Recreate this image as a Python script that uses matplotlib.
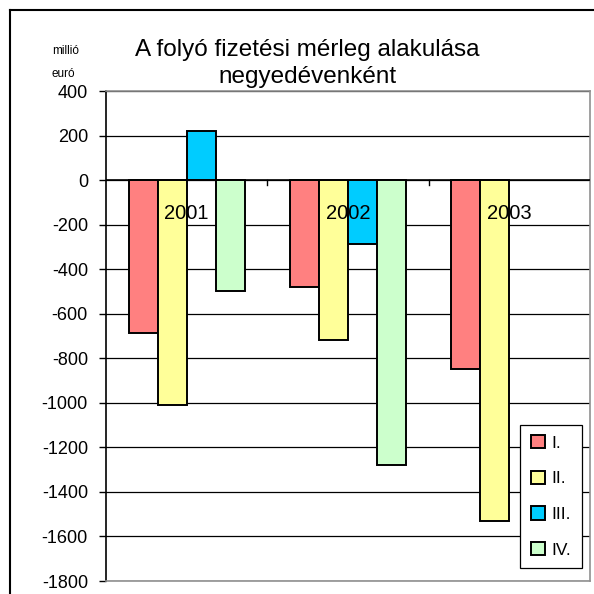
import numpy as np
import matplotlib
matplotlib.use('Agg')
import matplotlib.pyplot as plt

plt.rcParams['font.family'] = ['Liberation Sans', 'DejaVu Sans']
plt.rcParams['axes.unicode_minus'] = False

# adatok (millió euró)
years = ['2001', '2002', '2003']
quarters = ['I.', 'II.', 'III.', 'IV.']
q1 = [-685, -480, -850]
q2 = [-1010, -720, -1530]
q3 = [220, -285, np.nan]
q4 = [-500, -1280, np.nan]
colors = ['#FF8080', '#FFFF99', '#00CCFF', '#CCFFCC']
yticks = list(range(-1800, 401, 200))

fig = plt.figure(figsize=(5.94, 5.94), dpi=100)

# külső keret: egy üres tengely, amelynek csak a bal és felső széle látszik
frame = fig.add_axes([10/594, -0.05, 1.0, 1 - 10/594 + 0.05], zorder=-1)
frame.set_xticks([])
frame.set_yticks([])
frame.patch.set_alpha(0)
for s in frame.spines.values():
    s.set_color('black')
    s.set_linewidth(1.5)

ax = fig.add_axes([106/594, 1 - 581/594, 484/594, 490/594])

x = np.arange(len(years))
w = 0.18
series = [q1, q2, q3, q4]
for k, vals in enumerate(series):
    ax.bar(x + (k - 1.5) * w, vals, width=w, color=colors[k],
           edgecolor='black', linewidth=1.4, label=quarters[k], zorder=3)

ax.set_xlim(-0.5, 2.5)
ax.set_ylim(-1800, 400)
ax.set_yticks(yticks)
ax.set_yticklabels([str(v) for v in yticks], fontsize=13)
ax.tick_params(axis='y', direction='out', length=5, width=1, pad=8)
ax.yaxis.grid(True, color='black', linewidth=0.9, zorder=0)

# x tengely a nullánál, kis osztások a kategóriák között
ax.set_xticks([])
ax.axhline(0, color='black', linewidth=1.2, zorder=4)
for b in [0.5, 1.5]:
    ax.plot([b, b], [0, -20], color='black', linewidth=1, zorder=4)
for i, y in enumerate(years):
    ax.annotate(y, (x[i], 0), xytext=(0, -28), textcoords='offset points',
                ha='center', va='baseline', fontsize=14.5, zorder=5)

for s in ['top', 'right', 'bottom']:
    ax.spines[s].set_color('#909090')
    ax.spines[s].set_linewidth(1.2)
ax.spines['left'].set_color('black')
ax.spines['left'].set_linewidth(1.2)

leg = ax.legend(loc='lower right', bbox_to_anchor=(0.983, 0.0265),
                fontsize=12.5, frameon=True, fancybox=False, framealpha=1,
                edgecolor='black', labelspacing=1.15, handlelength=0.8,
                handleheight=0.8, handletextpad=0.4, borderpad=0.6,
                borderaxespad=0)
leg.get_frame().set_linewidth(0.9)

fig.text(307/594, 1 - 83/594, 'A folyó fizetési mérleg alakulása\nnegyedévenként',
         ha='center', va='baseline', fontsize=17.5, linespacing=1.3)
fig.text(66/594, 1 - 54/594, 'millió', ha='center', va='baseline', fontsize=8.5)
fig.text(63/594, 1 - 77/594, 'euró', ha='center', va='baseline', fontsize=8.5)

fig.savefig('out.png', dpi=100)
